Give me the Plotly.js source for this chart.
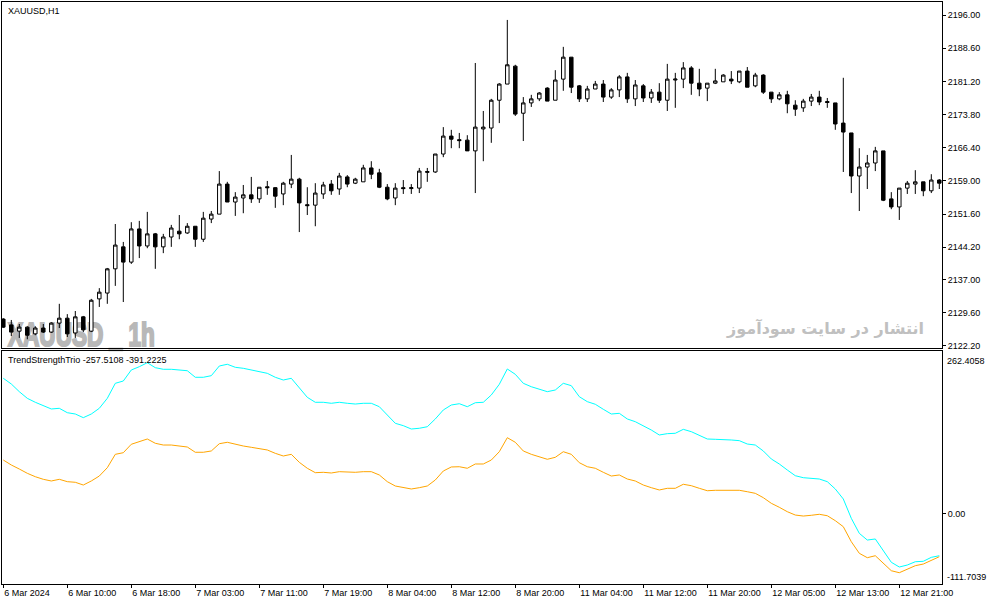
<!DOCTYPE html>
<html>
<head>
<meta charset="utf-8">
<script src="https://cdn.plot.ly/plotly-3.0.1.min.js"></script>
<style>html,body{margin:0;padding:0;background:#fff;}#chart{width:987px;height:605px;}</style>
</head>
<body>
<div id="chart"></div>
<script>
// ---- data ----
const tickIndex = [0, 8, 16, 24, 32, 40, 48, 56, 64, 72, 80, 88, 96, 104, 112];
const tickLabels = ["6 Mar 2024", "6 Mar 10:00", "6 Mar 18:00", "7 Mar 03:00", "7 Mar 11:00", "7 Mar 19:00",
  "8 Mar 04:00", "8 Mar 12:00", "8 Mar 20:00", "11 Mar 04:00", "11 Mar 12:00", "11 Mar 20:00",
  "12 Mar 05:00", "12 Mar 13:00", "12 Mar 21:00"];
const priceTicks = [2196.00, 2188.60, 2181.20, 2173.80, 2166.40, 2159.00, 2151.60, 2144.20, 2137.00, 2129.60, 2122.20];

const open = [2128.2,2126.9,2125.5,2126.4,2124.9,2126.2,2125.3,2127.3,2128.4,2125.1,
  2128.7,2125.5,2132.7,2134.0,2139.4,2144.3,2140.9,2148.3,2144.5,2147.2,
  2144.3,2146.5,2147.8,2147.4,2148.9,2146.0,2150.5,2151.6,2158.3,2154.3,
  2155.2,2155.9,2155.0,2157.7,2157.5,2156.1,2158.3,2159.4,2153.7,2153.6,
  2156.1,2158.3,2157.2,2159.9,2158.5,2158.8,2161.9,2160.8,2157.6,2155.2,
  2157.5,2157.3,2157.4,2160.9,2161.0,2165.0,2169.0,2168.2,2168.1,2165.7,
  2170.6,2170.8,2177.0,2180.6,2184.6,2174.1,2176.4,2177.3,2179.7,2177.0,
  2181.7,2186.6,2180.2,2177.3,2179.5,2180.6,2177.7,2179.3,2182.2,2177.3,
  2180.2,2177.5,2178.8,2177.0,2181.5,2181.7,2184.2,2180.8,2179.7,2180.8,
  2181.1,2181.7,2181.1,2183.5,2180.2,2182.6,2178.8,2177.3,2178.2,2175.9,
  2175.3,2176.8,2177.7,2176.7,2176.4,2171.9,2169.7,2160.1,2162.1,2163.0,
  2165.7,2155.0,2153.2,2157.4,2158.3,2158.8,2156.8,2159.2];
const high = [2128.4,2128.0,2127.1,2126.6,2126.6,2127.1,2127.5,2131.6,2129.3,2130.0,
  2128.9,2132.7,2135.1,2139.6,2149.4,2145.4,2149.8,2150.1,2152.1,2147.4,
  2147.2,2149.2,2151.4,2149.6,2148.9,2152.1,2152.3,2161.2,2158.8,2156.5,
  2158.1,2159.9,2157.6,2159.0,2157.6,2158.8,2164.8,2159.7,2157.6,2158.5,
  2158.8,2159.2,2160.8,2160.3,2159.7,2162.6,2163.4,2161.7,2158.3,2158.5,
  2159.2,2158.3,2161.9,2161.9,2165.0,2171.0,2170.4,2169.7,2169.2,2185.3,
  2174.6,2177.3,2180.8,2194.9,2184.9,2177.7,2178.2,2178.8,2179.9,2183.7,
  2188.9,2186.6,2180.4,2180.2,2181.3,2181.5,2179.7,2182.6,2183.1,2181.5,
  2180.6,2179.5,2180.8,2185.1,2183.1,2185.5,2184.6,2184.0,2180.8,2184.0,
  2182.8,2183.5,2183.5,2184.4,2183.1,2182.8,2178.8,2178.8,2179.1,2177.0,
  2177.3,2178.4,2179.1,2177.5,2176.4,2182.0,2169.7,2166.3,2164.8,2166.6,
  2165.7,2156.5,2157.4,2159.0,2161.4,2158.8,2160.5,2159.4];
const low = [2126.2,2124.4,2124.0,2123.7,2124.6,2125.1,2125.1,2126.2,2124.2,2124.0,
  2125.3,2125.3,2130.9,2131.6,2135.6,2132.0,2140.5,2141.8,2144.0,2139.4,
  2142.9,2144.3,2146.0,2147.2,2144.3,2145.4,2149.6,2151.6,2154.3,2151.2,
  2151.8,2154.1,2154.1,2155.9,2153.0,2153.6,2157.4,2147.6,2151.4,2148.9,
  2155.0,2155.9,2155.9,2157.6,2158.3,2158.8,2159.4,2157.4,2154.7,2153.6,
  2156.1,2156.1,2156.3,2158.8,2160.8,2164.3,2166.3,2166.3,2165.7,2156.3,
  2163.4,2167.5,2171.9,2180.6,2173.5,2167.9,2175.5,2176.8,2176.8,2177.0,
  2179.1,2178.6,2176.6,2176.6,2179.5,2176.6,2177.3,2177.7,2176.4,2175.7,
  2176.6,2176.4,2176.4,2174.6,2175.3,2179.7,2178.2,2177.9,2176.8,2180.6,
  2181.1,2180.6,2180.8,2179.9,2179.9,2178.4,2176.4,2177.0,2174.1,2173.5,
  2174.4,2175.7,2175.9,2175.3,2170.4,2161.0,2156.3,2152.3,2157.2,2161.2,
  2154.5,2152.7,2150.3,2156.1,2156.1,2155.6,2156.3,2157.2];
const close = [2126.4,2125.3,2126.4,2124.6,2126.2,2125.3,2127.3,2128.4,2124.9,2128.7,
  2125.8,2132.4,2134.2,2139.4,2144.7,2140.9,2148.3,2144.5,2147.2,2144.3,
  2146.5,2148.5,2147.2,2148.9,2146.0,2150.7,2151.6,2158.3,2154.3,2155.4,
  2155.9,2155.0,2157.6,2157.5,2155.6,2158.5,2159.4,2154.1,2153.5,2156.3,
  2158.1,2156.8,2160.1,2158.3,2159.4,2161.9,2160.5,2157.6,2155.0,2157.4,
  2157.3,2157.5,2161.2,2161.1,2165.0,2169.0,2168.3,2168.0,2165.7,2171.0,
  2171.0,2177.0,2180.6,2184.9,2173.9,2176.4,2177.3,2178.6,2176.8,2181.5,
  2186.6,2179.9,2177.3,2179.5,2180.6,2177.7,2179.3,2182.2,2177.3,2180.4,
  2177.5,2178.8,2177.0,2181.7,2181.7,2184.2,2180.8,2179.5,2180.8,2181.3,
  2182.6,2181.3,2183.5,2179.9,2182.6,2178.8,2177.3,2178.2,2176.2,2175.0,
  2176.8,2177.7,2176.6,2176.5,2171.7,2169.9,2160.1,2162.1,2163.0,2165.7,
  2154.7,2153.2,2157.4,2158.5,2158.8,2156.8,2159.2,2158.5];

const trendCyan = [218.4,209.2,196.8,186.1,179.7,173.7,168.9,170.0,162.9,160.8,
  154.9,160.8,170.0,186.1,210.3,214.0,231.8,237.1,243.5,235.5,
  232.9,232.9,231.8,230.6,220.0,220.0,222.6,238.2,241.0,236.1,
  234.5,231.8,230.2,226.4,220.0,215.6,218.4,202.3,187.7,179.7,
  179.7,178.1,179.7,178.1,176.9,178.1,178.1,172.6,159.2,145.8,
  142.0,136.6,137.8,140.3,152.8,167.3,175.3,177.4,172.6,179.0,
  179.7,191.5,208.7,233.4,224.8,210.3,204.8,201.1,196.8,199.5,
  210.3,206.5,188.7,180.7,176.5,168.4,160.8,161.9,152.8,148.4,
  142.0,135.0,127.0,129.1,129.7,136.1,132.3,125.8,120.5,120.0,
  120.0,118.9,117.8,112.4,110.8,101.2,88.3,80.2,70.5,61.3,
  58.1,57.1,56.0,51.7,39.9,23.8,-7.4,-31.6,-42.4,-40.7,
  -60.1,-78.3,-85.9,-82.7,-77.4,-76.7,-70.3,-67.7];
const trendOrange = [86.6,78.6,72.1,65.2,59.7,55.5,52.8,55.5,51.7,50.7,
  46.3,52.8,60.8,74.2,95.8,98.4,112.0,116.2,120.5,113.6,
  110.8,110.8,109.7,107.6,99.1,99.1,101.2,112.9,115.2,112.0,
  109.2,107.1,105.5,102.8,97.4,93.1,95.8,82.9,73.3,66.2,
  66.8,65.7,67.8,66.8,66.8,67.8,67.8,62.5,51.7,44.7,
  42.0,39.9,42.0,44.7,54.4,68.9,75.4,75.8,73.3,80.2,
  80.2,86.6,100.0,122.6,115.2,101.2,95.8,92.0,87.8,91.0,
  100.0,95.8,82.3,75.8,73.3,66.8,60.8,62.5,56.0,52.8,
  46.3,42.0,38.3,41.0,41.0,47.5,45.2,41.0,37.1,37.8,
  37.8,37.8,37.8,35.5,32.9,25.9,16.8,10.4,3.3,-2.1,
  -3.7,-2.5,-0.9,-3.2,-11.2,-20.9,-45.1,-63.8,-70.9,-67.7,
  -79.9,-91.9,-95.1,-89.6,-83.8,-81.1,-75.1,-69.3];

const indicatorName = "TrendStrengthTrio -257.5108 -391.2225";
const indMax = 262.4058, indMin = -111.7039;
const watermarkText = "XAUUSD _ 1h";
const siteText = "انتشار در سایت سودآموز";

// ---- chart ----
const idx = open.map((_, i) => i);
const FONT = "Liberation Sans, Arial, sans-serif";

const traces = [
  {
    type: "candlestick", x: idx, open: open, high: high, low: low, close: close,
    xaxis: "x", yaxis: "y",
    increasing: { line: { color: "#000000", width: 1 }, fillcolor: "#ffffff" },
    decreasing: { line: { color: "#000000", width: 1 }, fillcolor: "#000000" },
    whiskerwidth: 0, hoverinfo: "skip", showlegend: false
  },
  {
    type: "scatter", mode: "lines", x: idx, y: trendCyan, xaxis: "x2", yaxis: "y2",
    line: { color: "#00ffff", width: 1 }, hoverinfo: "skip", showlegend: false
  },
  {
    type: "scatter", mode: "lines", x: idx, y: trendOrange, xaxis: "x2", yaxis: "y2",
    line: { color: "#ffa500", width: 1 }, hoverinfo: "skip", showlegend: false
  }
];

const xr = [-0.1625, 117.3375];
const axisCommon = { showgrid: false, zeroline: false, showline: true, mirror: true, linecolor: "#000", linewidth: 1 };

const layout = {
  width: 987, height: 605,
  margin: { l: 2, r: 45, t: 2, b: 21 },
  paper_bgcolor: "#ffffff", plot_bgcolor: "#ffffff",
  font: { family: FONT, size: 9, color: "#000" },
  showlegend: false,
  boxgap: 0.38,
  xaxis: Object.assign({}, axisCommon, {
    domain: [0, 1], anchor: "y", range: xr, showticklabels: false, ticks: "",
    rangeslider: { visible: false }, fixedrange: true
  }),
  xaxis2: Object.assign({}, axisCommon, {
    domain: [0, 1], anchor: "y2", range: xr, matches: "x",
    tickmode: "array", tickvals: tickIndex, ticktext: tickLabels,
    ticks: "outside", ticklen: 3, tickcolor: "#000", ticklabelposition: "outside right",
    tickfont: { family: FONT, size: 9, color: "#000" },
    rangeslider: { visible: false }
  }),
  yaxis: Object.assign({}, axisCommon, {
    domain: [0.4055, 1], anchor: "x", side: "right", range: [2121.75, 2198.9],
    tickmode: "array", tickvals: priceTicks, ticktext: priceTicks.map(v => v.toFixed(2)),
    ticks: "outside", ticklen: 3, tickcolor: "#000",
    tickfont: { family: FONT, size: 9, color: "#000" }
  }),
  yaxis2: Object.assign({}, axisCommon, {
    domain: [0, 0.4012], anchor: "x2", side: "right", range: [-113.3, 263.2],
    tickmode: "array", tickvals: [0], ticktext: ["0.00"],
    ticks: "outside", ticklen: 3, tickcolor: "#000",
    tickfont: { family: FONT, size: 9, color: "#000" }
  }),
  shapes: [
    {
      type: "rect", layer: "below", xref: "paper", yref: "paper",
      x0: 0.001, x1: 0.2, y0: 0.412, y1: 0.457,
      line: { width: 0 }, fillcolor: "rgba(0,0,0,0)",
      label: {
        text: watermarkText, textposition: "middle left", padding: 2,
        font: { family: "Liberation Sans, Arial, sans-serif", size: 33, color: "#b8b8b8", weight: "bold" }
      }
    }
  ],
  annotations: [
    { text: "XAUUSD,H1", xref: "paper", yref: "paper", x: 0.004, y: 0.9845, xanchor: "left", yanchor: "middle",
      showarrow: false, font: { family: FONT, size: 9, color: "#000" } },
    { text: indicatorName, xref: "paper", yref: "paper", x: 0.004, y: 0.3854, xanchor: "left", yanchor: "middle",
      showarrow: false, font: { family: FONT, size: 9, color: "#000" } },
    { text: indMax.toFixed(4), xref: "paper", yref: "paper", x: 1, xshift: 3, y: 0.3837, xanchor: "left", yanchor: "middle",
      showarrow: false, font: { family: FONT, size: 9, color: "#000" } },
    { text: indMin.toFixed(4), xref: "paper", yref: "paper", x: 1, xshift: 3, y: 0.0115, xanchor: "left", yanchor: "middle",
      showarrow: false, font: { family: FONT, size: 9, color: "#000" } },
    { text: siteText, xref: "paper", yref: "paper", x: 0.8755, y: 0.44, xanchor: "center", yanchor: "middle",
      showarrow: false, font: { family: "DejaVu Sans, Noto Sans, sans-serif", size: 16, color: "#c0c0c0", weight: "bold" } }
  ]
};

Plotly.newPlot("chart", traces, layout, { staticPlot: true, displayModeBar: false }).then(function (gd) {
  // condense the watermark label horizontally and thicken it (narrow heavy face as in the reference)
  const texts = gd.querySelectorAll("text");
  texts.forEach(function (t) {
    if (t.textContent === watermarkText) {
      const bb = t.getBBox();
      const x0 = bb.x;
      const prev = t.getAttribute("transform") || "";
      t.setAttribute("transform", "translate(" + x0 + ",0) scale(0.685,1) translate(" + (-x0) + ",0) " + prev);
      t.style.fontWeight = "bold";
      t.style.stroke = "#b8b8b8";
      t.style.strokeWidth = "2.2px";
    }
  });
});
</script>
</body>
</html>
